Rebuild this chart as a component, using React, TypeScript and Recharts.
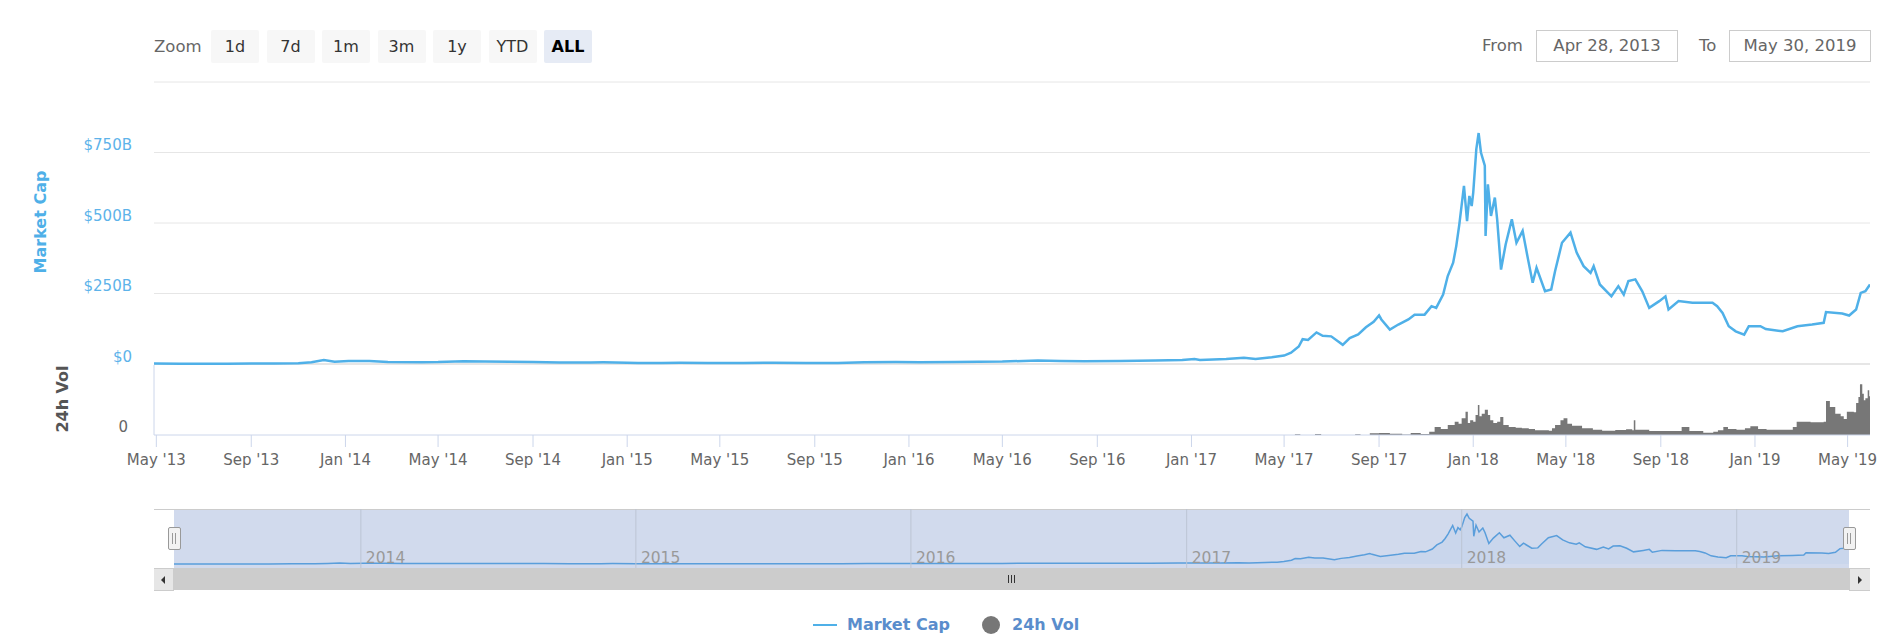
import React from "react";
import {
  LineChart,
  Line,
  AreaChart,
  Area,
  XAxis,
  YAxis,
  CartesianGrid,
  ReferenceLine,
} from "recharts";

// total market cap, billions USD
const capDates = [
  "2013-04-28", "2013-06-01", "2013-07-05", "2013-08-01", "2013-09-01", "2013-10-01", "2013-11-01", "2013-11-18", "2013-12-04", "2013-12-18",
  "2014-01-05", "2014-02-01", "2014-02-25", "2014-04-10", "2014-05-01", "2014-06-03", "2014-07-01", "2014-08-01", "2014-09-01", "2014-10-05",
  "2014-11-15", "2014-12-01", "2015-01-01", "2015-01-15", "2015-02-15", "2015-03-10", "2015-04-15", "2015-06-01", "2015-07-10", "2015-08-20",
  "2015-10-01", "2015-11-04", "2015-12-15", "2016-01-15", "2016-03-01", "2016-05-01", "2016-06-16", "2016-07-15", "2016-08-15", "2016-10-01",
  "2016-11-15", "2016-12-20", "2017-01-05", "2017-01-12", "2017-02-15", "2017-03-10", "2017-03-25", "2017-04-15", "2017-05-01", "2017-05-10",
  "2017-05-20", "2017-05-25", "2017-06-01", "2017-06-12", "2017-06-20", "2017-07-01", "2017-07-16", "2017-07-25", "2017-08-05", "2017-08-15",
  "2017-08-25", "2017-09-01",
  "2017-09-04", "2017-09-15", "2017-09-26", "2017-10-09", "2017-10-17", "2017-10-30", "2017-11-08", "2017-11-14", "2017-11-23", "2017-11-29",
  "2017-12-06", "2017-12-10", "2017-12-14", "2017-12-20", "2017-12-24", "2017-12-27", "2017-12-30", "2018-01-01", "2018-01-05", "2018-01-08",
  "2018-01-11", "2018-01-16", "2018-01-17", "2018-01-20", "2018-01-24", "2018-01-29", "2018-02-01", "2018-02-06", "2018-02-12", "2018-02-20",
  "2018-02-26", "2018-03-06", "2018-03-13", "2018-03-19", "2018-03-24", "2018-04-04", "2018-04-12", "2018-04-17", "2018-04-26", "2018-05-07",
  "2018-05-15", "2018-05-24", "2018-06-02", "2018-06-06", "2018-06-14", "2018-06-29", "2018-07-08", "2018-07-15", "2018-07-21", "2018-07-30",
  "2018-08-08", "2018-08-17", "2018-08-30", "2018-09-07", "2018-09-11", "2018-09-24", "2018-10-12", "2018-11-07", "2018-11-13", "2018-11-20",
  "2018-11-28", "2018-12-07", "2018-12-18", "2018-12-24", "2019-01-08", "2019-01-15", "2019-02-06", "2019-02-25", "2019-03-16", "2019-03-31",
  "2019-04-03", "2019-04-24", "2019-05-03", "2019-05-12", "2019-05-18", "2019-05-24", "2019-05-30",
];
const capValues = [
  1.5, 1.3, 1.0, 1.2, 1.6, 1.7, 2.6, 6.5, 14, 8,
  11, 10.5, 7.5, 6.5, 6.8, 9.5, 9, 8.2, 7.2, 5.5,
  5.6, 5.8, 4.8, 3.4, 3.6, 4.2, 3.6, 3.6, 4.6, 3.8,
  3.8, 6.2, 6.8, 6.3, 7.5, 8.5, 12.5, 11, 10, 11,
  12.5, 14.5, 17.5, 14.5, 18, 22, 18, 24, 30, 40,
  62, 88, 85, 112, 100, 98, 68, 92, 105, 130,
  150, 172,
  158, 122, 140, 158, 175, 175, 205, 199, 246, 312,
  359, 418, 495, 632, 507, 596, 560, 608, 762, 819,
  750, 703, 454, 637, 525, 590, 513, 335, 424, 513,
  430, 472, 371, 288, 341, 258, 264, 329, 430, 466,
  395, 347, 323, 347, 282, 240, 276, 246, 294, 300,
  258, 199, 223, 240, 193, 223, 217, 217, 205, 181,
  134, 116, 104, 134, 134, 124, 116, 134, 140, 146,
  184, 179, 172, 193, 252, 258, 282,
];

// 24h volume, billions USD
const volDates = [
  "2013-04-28", "2017-05-15", "2017-05-22", "2017-06-10", "2017-06-18", "2017-08-01", "2017-08-08", "2017-08-20", "2017-09-01", "2017-09-15",
  "2017-10-01", "2017-10-12", "2017-10-25", "2017-11-05", "2017-11-12", "2017-11-20", "2017-11-29", "2017-12-08", "2017-12-13", "2017-12-17",
  "2017-12-22", "2017-12-25", "2017-12-28", "2018-01-01", "2018-01-04", "2018-01-07", "2018-01-09", "2018-01-12", "2018-01-16", "2018-01-20",
  "2018-01-23", "2018-01-27", "2018-02-01", "2018-02-05", "2018-02-09", "2018-02-16", "2018-02-25", "2018-03-05", "2018-03-14", "2018-03-22",
  "2018-04-01", "2018-04-09", "2018-04-13", "2018-04-17", "2018-04-24", "2018-04-28", "2018-05-03", "2018-05-09", "2018-05-22", "2018-06-05",
  "2018-06-17", "2018-07-04", "2018-07-18", "2018-07-26", "2018-07-28", "2018-07-30", "2018-08-17", "2018-09-08", "2018-09-26", "2018-09-28",
  "2018-10-08", "2018-10-26", "2018-11-08", "2018-11-14", "2018-11-21", "2018-11-27", "2018-12-08", "2018-12-19", "2018-12-26", "2019-01-05",
  "2019-01-16", "2019-02-07", "2019-02-19", "2019-02-24", "2019-03-14", "2019-03-31", "2019-04-03", "2019-04-08", "2019-04-15", "2019-04-22",
  "2019-04-26", "2019-04-30", "2019-05-09", "2019-05-12", "2019-05-15", "2019-05-17", "2019-05-20", "2019-05-22", "2019-05-24", "2019-05-27",
  "2019-05-29", "2019-05-30",
];
const volValues = [
  0, 1, 0, 1.5, 0, 1.2, 0, 2.5, 3, 2,
  0.8, 3, 1.5, 5, 12, 9, 15, 20, 17, 25,
  35, 18, 22, 20, 30, 45, 28, 32, 38, 30,
  22, 18, 20, 27, 15, 12, 11, 10, 9, 7,
  7, 6.5, 10, 15, 22, 25, 17, 14, 10, 8,
  6.5, 7.5, 8.5, 7, 22, 8, 6, 6, 6, 12,
  6, 3.5, 5, 7, 12, 9, 8, 10, 13, 9,
  8, 8, 12, 20, 19, 20, 51, 42, 32, 28,
  24, 35, 34, 48, 57, 76, 62, 52, 55, 67,
  58, 60,
];

const xTickDates = [
  "2013-05-01", "2013-09-01", "2014-01-01", "2014-05-01", "2014-09-01", "2015-01-01", "2015-05-01",
  "2015-09-01", "2016-01-01", "2016-05-01", "2016-09-01", "2017-01-01", "2017-05-01", "2017-09-01",
  "2018-01-01", "2018-05-01", "2018-09-01", "2019-01-01", "2019-05-01",
];
const capTicks = [0, 250, 500, 750, 1000];
const navYears = ["2014", "2015", "2016", "2017", "2018", "2019"];
const zoomButtons = ["1d", "7d", "1m", "3m", "1y", "YTD", "ALL"];
const rangeFrom = "Apr 28, 2013";
const rangeTo = "May 30, 2019";

const FONT = '"DejaVu Sans", Verdana, sans-serif';
const CAP_COLOR = "#4fb0e8";
const MONTHS = ["Jan", "Feb", "Mar", "Apr", "May", "Jun", "Jul", "Aug", "Sep", "Oct", "Nov", "Dec"];

const ts = (d: string) => Date.parse(d + "T00:00:00Z");
const START = ts("2013-04-28");
const END = ts("2019-05-30");

const capData = capDates.map((d, i) => ({ t: ts(d), v: capValues[i] }));
const volData = volDates.map((d, i) => ({ t: ts(d), v: volValues[i] }));
const xTicks = xTickDates.map(ts);

const fmtMonth = (t: number) => {
  const d = new Date(t);
  return `${MONTHS[d.getUTCMonth()]} '${String(d.getUTCFullYear()).slice(2)}`;
};

const CapTick = (p: any) => {
  if (p.payload.value === 1000) return <g />;
  return (
    <text x={p.x} y={p.y} dy={-2.5} textAnchor="end" fill="#5db3ea" fontSize={15} fontFamily={FONT}>
      {`$${p.payload.value}${p.payload.value === 0 ? "" : "B"}`}
    </text>
  );
};

const VolTick = (p: any) => (
  <text x={p.x} y={p.y} dy={-3} textAnchor="end" fill="#666" fontSize={15} fontFamily={FONT}>
    {p.payload.value}
  </text>
);

const DateTick = (p: any) => (
  <text x={p.x} y={p.y} dy={14} textAnchor="middle" fill="#666" fontSize={15} fontFamily={FONT}>
    {fmtMonth(p.payload.value)}
  </text>
);

const abs = (left: number, top: number, extra: React.CSSProperties = {}): React.CSSProperties => ({
  position: "absolute",
  left,
  top,
  ...extra,
});

const Handle = ({ x }: { x: number }) => (
  <div style={abs(x - 6, 527, { width: 11, height: 21, background: "#f2f2f2", border: "1px solid #999", borderRadius: 2 })}>
    <div style={abs(3, 5, { width: 1, height: 11, background: "#999" })} />
    <div style={abs(6, 5, { width: 1, height: 11, background: "#999" })} />
  </div>
);

export default function App() {
  return (
    <div style={abs(0, 0, { width: 1896, height: 641, background: "#fff", fontFamily: FONT, overflow: "hidden" })}>
      {/* range selector */}
      <div style={abs(154, 30, { height: 33, lineHeight: "33px", fontSize: 16.5, color: "#666" })}>Zoom</div>
      {zoomButtons.map((b, i) => (
        <div
          key={b}
          style={abs(211 + i * 55.5, 30, {
            width: 48,
            height: 33,
            lineHeight: "33px",
            textAlign: "center",
            borderRadius: 2,
            fontSize: 16,
            background: b === "ALL" ? "#e6ebf5" : "#f7f7f7",
            color: b === "ALL" ? "#000" : "#333",
            fontWeight: b === "ALL" ? "bold" : "normal",
          })}
        >
          {b}
        </div>
      ))}
      <div style={abs(1482, 30, { height: 32, lineHeight: "32px", fontSize: 16.5, color: "#666" })}>From</div>
      <div style={abs(1536, 30, { width: 140, height: 30, lineHeight: "30px", border: "1px solid #ccc", textAlign: "center", fontSize: 16.5, color: "#666" })}>
        {rangeFrom}
      </div>
      <div style={abs(1699, 30, { height: 32, lineHeight: "32px", fontSize: 16.5, color: "#666" })}>To</div>
      <div style={abs(1729, 30, { width: 140, height: 30, lineHeight: "30px", border: "1px solid #ccc", textAlign: "center", fontSize: 16.5, color: "#666" })}>
        {rangeTo}
      </div>

      {/* axis titles */}
      <div style={abs(40, 222, { transform: "translate(-50%, -50%) rotate(-90deg)", whiteSpace: "nowrap", fontSize: 16, fontWeight: "bold", color: CAP_COLOR })}>
        Market Cap
      </div>
      <div style={abs(62, 399, { transform: "translate(-50%, -50%) rotate(-90deg)", whiteSpace: "nowrap", fontSize: 16, fontWeight: "bold", color: "#555" })}>
        24h Vol
      </div>

      {/* market cap pane */}
      <div style={abs(0, 0)}>
        <LineChart width={1896} height={372} data={capData} margin={{ top: 82, right: 26, bottom: 8, left: 84 }}>
          <CartesianGrid vertical={false} stroke="#e6e6e6" />
          <XAxis dataKey="t" type="number" domain={[START, END]} hide allowDataOverflow />
          <YAxis
            domain={[0, 1000]}
            ticks={capTicks}
            interval={0}
            width={70}
            axisLine={false}
            tickLine={false}
            tickSize={0}
            tickMargin={22}
            tick={(p: any) => <CapTick {...p} />}
          />
          <ReferenceLine y={0} stroke="#e6e6e6" strokeWidth={2} />
          <Line type="linear" dataKey="v" stroke={CAP_COLOR} strokeWidth={2.5} dot={false} isAnimationActive={false} />
        </LineChart>
      </div>

      {/* volume pane */}
      <div style={abs(0, 364)}>
        <AreaChart width={1896} height={110} data={volData} margin={{ top: 1, right: 26, bottom: 0, left: 84 }}>
          <XAxis
            dataKey="t"
            type="number"
            domain={[START, END]}
            ticks={xTicks}
            interval={0}
            height={39}
            tickSize={12}
            tickMargin={4}
            axisLine={{ stroke: "#ccd6eb" }}
            tickLine={{ stroke: "#ccd6eb" }}
            tick={(p: any) => <DateTick {...p} />}
          />
          <YAxis
            domain={[0, 105]}
            ticks={[0]}
            width={70}
            axisLine={{ stroke: "#ccd6eb" }}
            tickLine={false}
            tickSize={0}
            tickMargin={26}
            tick={(p: any) => <VolTick {...p} />}
          />
          <Area type="stepAfter" dataKey="v" stroke="none" fill="#777" fillOpacity={1} isAnimationActive={false} />
        </AreaChart>
      </div>

      {/* navigator */}
      <div style={abs(154, 509, { width: 1716, height: 1, background: "#cccccc" })} />
      <div style={abs(174, 510, { width: 1675, height: 58, background: "#d1daed" })} />
      <div style={abs(0, 509)}>
        <AreaChart width={1896} height={59} data={capData} margin={{ top: 0, right: 47, bottom: 0, left: 174 }}>
          <XAxis dataKey="t" type="number" domain={[START, END]} hide />
          <YAxis domain={[-66, 902]} hide />
          {navYears.map((y) => (
            <ReferenceLine
              key={y}
              x={ts(y + "-01-01")}
              stroke="#bcc4d4"
              label={{ value: y, position: "insideBottomLeft", offset: 5, fill: "#999", fontSize: 15.5, fontFamily: FONT }}
            />
          ))}
          <Area type="linear" dataKey="v" stroke="#5a9edb" strokeWidth={1.5} fill="#5a9edb" fillOpacity={0.06} isAnimationActive={false} />
        </AreaChart>
      </div>
      <Handle x={174} />
      <Handle x={1849} />

      {/* scrollbar */}
      <div style={abs(154, 568, { width: 1716, height: 22, background: "#cccccc" })} />
      <div style={abs(154, 568, { width: 19, height: 21, background: "#e6e6e6", border: "1px solid #ccc", borderLeftWidth: 0 })}>
        <div style={abs(7, 7, { width: 0, height: 0, borderTop: "4px solid transparent", borderBottom: "4px solid transparent", borderRight: "4px solid #333" })} />
      </div>
      <div style={abs(1849, 568, { width: 20, height: 21, background: "#e6e6e6", border: "1px solid #ccc", borderRightWidth: 0 })}>
        <div style={abs(8, 7, { width: 0, height: 0, borderTop: "4px solid transparent", borderBottom: "4px solid transparent", borderLeft: "4px solid #333" })} />
      </div>
      {[0, 3, 6].map((d) => (
        <div key={d} style={abs(1008 + d, 575, { width: 1, height: 8, background: "#333" })} />
      ))}

      {/* legend */}
      <div style={abs(813, 624, { width: 24, height: 2, background: CAP_COLOR })} />
      <div style={abs(847, 614, { height: 22, lineHeight: "22px", fontSize: 16, fontWeight: "bold", color: "#5a8dcc", whiteSpace: "nowrap" })}>
        Market Cap
      </div>
      <div style={abs(982, 616, { width: 18, height: 18, borderRadius: 9, background: "#777" })} />
      <div style={abs(1012, 614, { height: 22, lineHeight: "22px", fontSize: 16, fontWeight: "bold", color: "#5a8dcc", whiteSpace: "nowrap" })}>
        24h Vol
      </div>
    </div>
  );
}
